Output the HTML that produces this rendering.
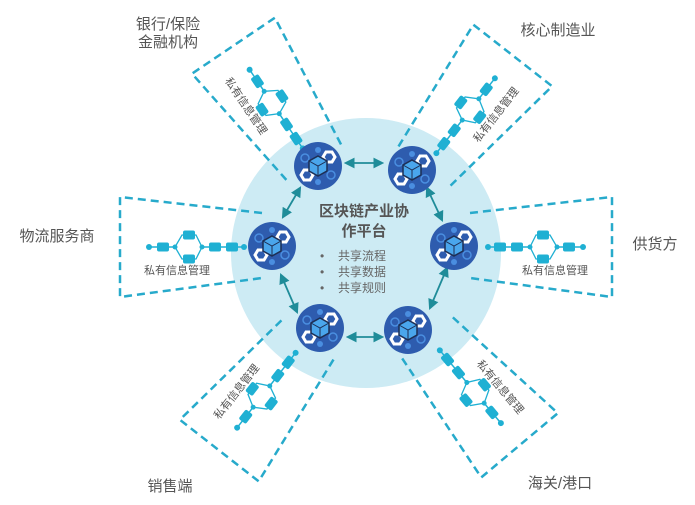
<!DOCTYPE html>
<html><head><meta charset="utf-8"><style>
html,body{margin:0;padding:0;background:#fff;}
svg{display:block;}
text{font-family:"Liberation Sans","Noto Sans CJK SC",sans-serif;}
</style></head><body>
<svg width="695" height="505" viewBox="0 0 695 505" xmlns="http://www.w3.org/2000/svg">
<defs>
<marker id="ah" viewBox="0 0 10 10" refX="8" refY="5" markerWidth="6" markerHeight="6" orient="auto-start-reverse"><path d="M0,0 L10,5 L0,10 z" fill="#1f8c99"/></marker>
<g id="chain">
 <line x1="122" y1="0" x2="164" y2="0" stroke="#1fb0d3" stroke-width="1.5"/>
 <line x1="191" y1="0" x2="217" y2="0" stroke="#1fb0d3" stroke-width="1.5"/>
 <path d="M164,0 L170,-12 L184,-12 L191,0 L184,12 L170,12 Z" fill="none" stroke="#1fb0d3" stroke-width="1.3"/>
 <circle cx="122" cy="0" r="3" fill="#1fb0d3"/>
 <circle cx="217" cy="0" r="3" fill="#1fb0d3"/>
 <circle cx="164" cy="0" r="2.5" fill="#1fb0d3"/>
 <circle cx="191" cy="0" r="2.5" fill="#1fb0d3"/>
 <rect x="128" y="-4.5" width="12" height="9" rx="2" fill="#1fb0d3"/>
 <rect x="145" y="-4.5" width="12" height="9" rx="2" fill="#1fb0d3"/>
 <rect x="171" y="-16.5" width="12" height="9" rx="2" fill="#1fb0d3"/>
 <rect x="171" y="7.5" width="12" height="9" rx="2" fill="#1fb0d3"/>
 <rect x="197" y="-4.5" width="12" height="9" rx="2" fill="#1fb0d3"/>
 <path d="M104,-34 L246,-50 L246,50 L104,31" fill="none" stroke="#27aacb" stroke-width="2.5" stroke-dasharray="8,5"/>
</g>
<g id="node">
 <circle r="24" fill="#2e5cae"/>
 <circle cx="0" cy="-16" r="3" fill="#4a8ee0"/>
 <circle cx="0" cy="16" r="3" fill="#4a8ee0"/>
 <circle cx="-13" cy="-8" r="4" fill="none" stroke="#4a8ee0" stroke-width="1.5"/>
 <circle cx="13" cy="9" r="4" fill="none" stroke="#4a8ee0" stroke-width="1.5"/>
 <path d="M8,-14 L14,-14 L17,-9 L14,-4 L8,-4 L5,-9 Z" fill="none" stroke="#fff" stroke-width="3"/>
 <path d="M-14,4 L-8,4 L-5,9 L-8,14 L-14,14 L-17,9 Z" fill="none" stroke="#fff" stroke-width="3"/>
 <path d="M0,-10 L9,-5 L9,5 L0,10 L-9,5 L-9,-5 Z" fill="#4aa6ec" stroke="#1d2f55" stroke-width="1.5"/>
 <path d="M-9,-5 L0,0 L9,-5 M0,0 L0,10" fill="none" stroke="#1d2f55" stroke-width="1"/>
</g>
</defs>

<circle cx="366" cy="253" r="135" fill="#cdebf4"/>

<!-- right -->
<g transform="translate(366,253) rotate(0) scale(1,1) translate(0,-6)"><use href="#chain"/>
<text transform="translate(189,27)" font-size="11" fill="#555" text-anchor="middle">私有信息管理</text></g>
<!-- top-right -->
<g transform="translate(366,253) rotate(-52) scale(1,1) translate(0,-6)"><use href="#chain"/>
<text transform="translate(189,27)" font-size="11" fill="#555" text-anchor="middle">私有信息管理</text></g>
<!-- bottom-right -->
<g transform="translate(366,253) rotate(50) scale(1,-1) translate(0,-6)"><use href="#chain"/>
<text transform="translate(189,23) scale(1,-1) translate(0,4)" font-size="11" fill="#555" text-anchor="middle">私有信息管理</text></g>
<!-- left -->
<g transform="translate(366,253) rotate(180) scale(1,-1) translate(0,-6)"><use href="#chain"/>
<text transform="translate(189,23) scale(-1,1) translate(0,4)" font-size="11" fill="#555" text-anchor="middle">私有信息管理</text></g>
<!-- top-left -->
<g transform="translate(366,253) rotate(-124) scale(1,-1) translate(0,-6)"><use href="#chain"/>
<text transform="translate(189,23) scale(-1,1) translate(0,4)" font-size="11" fill="#555" text-anchor="middle">私有信息管理</text></g>
<!-- bottom-left -->
<g transform="translate(366,253) rotate(128) scale(1,1) translate(0,-6)"><use href="#chain"/>
<text transform="translate(189,23) rotate(180) translate(0,4)" font-size="11" fill="#555" text-anchor="middle">私有信息管理</text></g>

<!-- arrows -->
<g stroke="#1f8c99" stroke-width="1.8" marker-start="url(#ah)" marker-end="url(#ah)">
<line x1="346" y1="163" x2="382" y2="163"/>
<line x1="427" y1="188" x2="442" y2="220"/>
<line x1="447" y1="268" x2="430" y2="308"/>
<line x1="382" y1="337" x2="348" y2="337"/>
<line x1="297" y1="312" x2="281" y2="275"/>
<line x1="283" y1="217" x2="300" y2="188"/>
</g>

<use href="#node" x="318" y="166"/>
<use href="#node" x="412" y="170"/>
<use href="#node" x="454" y="246"/>
<use href="#node" x="408" y="330"/>
<use href="#node" x="320" y="328"/>
<use href="#node" x="272" y="246"/>

<g fill="#555" font-weight="bold" font-size="15" text-anchor="middle">
<text x="364" y="216">区块链产业协</text>
<text x="364" y="236">作平台</text>
</g>
<g fill="#666" font-size="12">
<text x="320" y="260">•</text><text x="338" y="260">共享流程</text>
<text x="320" y="276">•</text><text x="338" y="276">共享数据</text>
<text x="320" y="292">•</text><text x="338" y="292">共享规则</text>
</g>

<g fill="#555" font-size="15" text-anchor="middle">
<text x="168" y="29">银行/保险</text>
<text x="168" y="47">金融机构</text>
<text x="558" y="35">核心制造业</text>
<text x="57" y="241">物流服务商</text>
<text x="655" y="249">供货方</text>
<text x="170" y="491">销售端</text>
<text x="560" y="488">海关/港口</text>
</g>
</svg>
</body></html>
